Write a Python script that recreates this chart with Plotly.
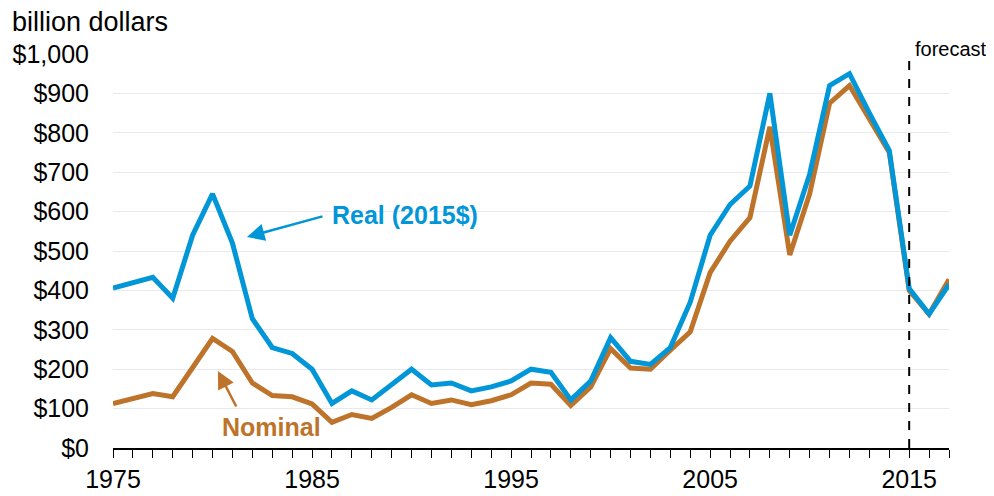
import plotly.graph_objects as go

years = list(range(1975, 2018))
real = [406, 421, 433, 380, 540, 645, 520, 328, 255, 240, 200, 113, 145, 122, 160,
        200, 160, 165, 145, 155, 170, 200, 192, 122, 170, 280, 220, 212, 255, 370,
        540, 618, 665, 900, 540, 695, 920, 950, 850, 755, 405, 340, 415]
nominal = [113, 125, 138, 130, 205, 278, 245, 165, 133, 130, 112, 65, 85, 75, 103,
           135, 113, 122, 110, 120, 135, 165, 162, 108, 155, 252, 203, 200, 248, 295,
           445, 525, 585, 815, 490, 645, 875, 920, 835, 750, 400, 340, 428]
ytick_vals = list(range(0, 1001, 100))
ytick_text = ["$0", "$100", "$200", "$300", "$400", "$500", "$600", "$700", "$800", "$900", "$1,000"]
xtick_vals = [1975, 1985, 1995, 2005, 2015]

BLUE = "#0096D7"
BROWN = "#BD732A"
FONT = "Liberation Sans, Arial, sans-serif"

fig = go.Figure()
fig.add_trace(go.Scatter(x=years, y=nominal, mode="lines", line=dict(color=BROWN, width=5),
                         name="Nominal", hoverinfo="x+y"))
fig.add_trace(go.Scatter(x=years, y=real, mode="lines", line=dict(color=BLUE, width=5),
                         name="Real (2015$)", hoverinfo="x+y"))

fig.add_shape(type="line", x0=2015, x1=2015, y0=0, y1=1.003, xref="x", yref="paper",
              line=dict(color="black", width=2, dash="dash"))

anns = [
    dict(text="<b>Real (2015$)</b>", x=1989.69, y=591, xref="x", yref="y", showarrow=False,
         font=dict(color=BLUE, size=25, family=FONT)),
    dict(text="", x=1981.73, y=535.5, ax=1985.6, ay=588.8, xref="x", yref="y", axref="x", ayref="y",
         showarrow=True, arrowhead=2, arrowsize=1.4, arrowwidth=2.5, arrowcolor=BLUE),
    dict(text="<b>Nominal</b>", x=1982.96, y=53, xref="x", yref="y", showarrow=False,
         font=dict(color=BROWN, size=25, family=FONT)),
    dict(text="", x=1980.27, y=195.4, ax=1981.23, ay=101.5, xref="x", yref="y", axref="x", ayref="y",
         showarrow=True, arrowhead=2, arrowsize=1.4, arrowwidth=2.5, arrowcolor=BROWN),
    dict(text="forecast", x=2015.2, y=1.0127, xref="x", yref="paper", xanchor="left", yanchor="middle",
         showarrow=False, font=dict(color="black", size=20, family=FONT)),
    dict(text="billion dollars", x=-0.1232, y=1.081, xref="paper", yref="paper", xanchor="left",
         yanchor="middle", showarrow=False, font=dict(color="black", size=27, family=FONT)),
]
fig.update_layout(annotations=anns)

fig.update_layout(
    width=994, height=488,
    margin=dict(l=105, r=53, t=46, b=48),
    plot_bgcolor="white", paper_bgcolor="white",
    showlegend=False,
    font=dict(family=FONT, size=25, color="black"),
    xaxis=dict(range=[1975, 2017], tickvals=xtick_vals, ticktext=[str(v) for v in xtick_vals],
               ticks="outside", ticklen=8, tickcolor="black", tickwidth=1,
               minor=dict(dtick=1, tick0=1975, ticks="outside", ticklen=8, tickcolor="black", tickwidth=1, showgrid=False),
               showline=True, linecolor="black", linewidth=1.5, showgrid=False, zeroline=False,
               tickfont=dict(size=25), automargin=False),
    yaxis=dict(range=[0, 1000], tickvals=ytick_vals, ticktext=ytick_text,
               showgrid=True, gridcolor="#E8E8EE", gridwidth=1, zeroline=False, showline=False,
               ticks="", ticklabelstandoff=23, tickfont=dict(size=25), automargin=False),
)

fig.write_html("out.html")
